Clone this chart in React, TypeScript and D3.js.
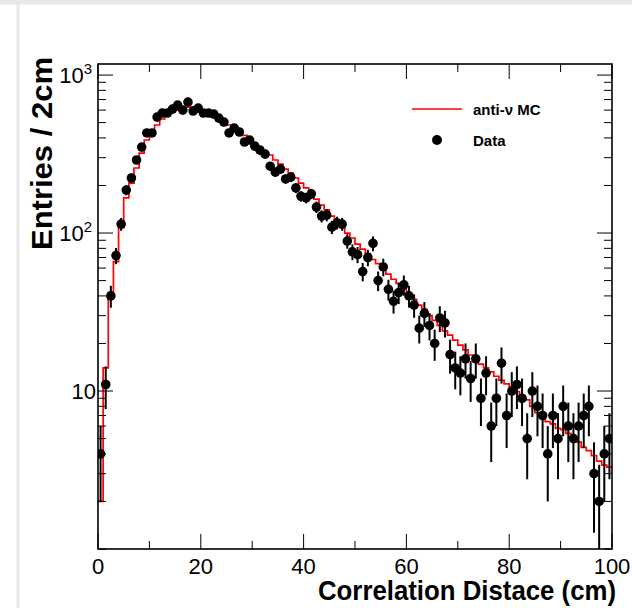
import React from "react";
import * as d3 from "d3";

// Histogram binning (cm)
const xDomain = [0, 100];
const binWidth = 1;

// Data counts per 1-cm bin
const dataCounts = [
  4, 11, 40, 72, 114, 187, 223, 290, 350, 430,
  430, 542, 575, 575, 609, 646, 600, 675, 592, 618,
  575, 575, 567, 534, 504, 430, 462, 436, 377, 388,
  355, 335, 316, 265, 243, 254, 220, 226, 193, 171,
  167, 177, 146, 128, 130, 109, 116, 114, 89, 76,
  73, 57, 70, 86, 50, 61, 44, 37, 42, 47,
  40, 35, 25, 31, 26, 20, 29, 27, 17, 14,
  13, 16, 12, 16, 9, 13, 6, 9, 15, 7,
  10, 11, 9, 5, 10, 8, 7, 4, 7, 5,
  8, 6, 5, 6, 7, 8, 3, 2, 4, 5,
];

// anti-nu MC expectation per bin
const mcCounts = [
  2.0, 14, 42, 66, 108, 167, 207, 258, 321, 388,
  430, 483, 527, 558, 583, 600, 618, 627, 627, 618,
  600, 583, 558, 534, 504, 483, 462, 436, 415, 394,
  371, 350, 330, 312, 290, 273, 254, 240, 223, 207,
  193, 179, 164, 150, 140, 128, 117, 108, 100, 93,
  85, 79, 74, 68, 64, 59, 55, 51, 48, 44,
  41, 38, 35, 33, 30, 28, 26, 24, 22.6, 21,
  19.5, 18.2, 16.9, 15.7, 14.8, 14.0, 13.2, 12.4, 11.7, 11.1,
  10.4, 9.9, 9.3, 8.8, 8.0, 7.3, 7.0, 6.4, 6.2, 5.8,
  5.7, 5.4, 5.0, 4.75, 4.4, 4.2, 3.9, 3.6, 3.4, 3.3,
];

const xMajorTicks = [0, 20, 40, 60, 80, 100];
const xTickLabels = ["0", "20", "40", "60", "80", "100"];
const yMajorLabels = [
  { v: 10, base: "10", sup: "" },
  { v: 100, base: "10", sup: "2" },
  { v: 1000, base: "10", sup: "3" },
];
const legendLabels = ["anti-\u03BD MC", "Data"];
const xTitle = "Correlation Distace (cm)";
const yTitle = "Entries / 2cm";

export default function App() {
  const W = 632, H = 608;
  const L = 98, R = 612, T = 64, B = 549;
  const x = d3.scaleLinear().domain(xDomain).range([L, R]);
  const y = d3.scaleLog().domain([1, 1175]).range([B, T]);

  const mcPts: [number, number][] = mcCounts.map((v, i) => [x(i * binWidth), y(v)]);
  mcPts.push([x(mcCounts.length * binWidth), y(mcCounts[mcCounts.length - 1])]);
  const mcPath = d3.line().curve(d3.curveStepAfter)(mcPts) || "";

  const xTicks = x.ticks(10);
  const yTicks = y.ticks();
  const font = "'Liberation Sans', Arial, Helvetica, sans-serif";
  const maj = 15, mnr = 8;

  return (
    <svg width={W} height={H} style={{ position: "absolute", left: 0, top: 0, background: "#fff" }}
      fontFamily={font}>
      <rect x={0} y={0} width={W} height={H} fill="#fff" />
      <rect x={0} y={0} width={W} height={4.5} fill="#e8e8e8" />
      <rect x={16.5} y={0} width={3} height={H} fill="#e6e6e6" />
      <defs>
        <clipPath id="frame">
          <rect x={L} y={T} width={R - L} height={B - T} />
        </clipPath>
      </defs>

      {/* MC histogram and data */}
      <g clipPath="url(#frame)">
        <path d={mcPath} fill="none" stroke="#ff0000" strokeWidth={1.7} />
        {dataCounts.map((n, i) => {
          const cx = x((i + 0.5) * binWidth);
          const e = Math.sqrt(n);
          const lo = Math.max(n - e, 0.5);
          return (
            <g key={i}>
              <line x1={cx} x2={cx} y1={y(lo)} y2={y(n + e)} stroke="#000" strokeWidth={2} />
              <circle cx={cx} cy={y(n)} r={4.8} fill="#000" />
            </g>
          );
        })}
      </g>

      {/* frame */}
      <rect x={L} y={T} width={R - L} height={B - T} fill="none" stroke="#000" strokeWidth={1.6} />

      {/* x ticks bottom & top */}
      {xTicks.map((t) => {
        const len = t % 20 === 0 ? maj : mnr;
        return (
          <g key={"xt" + t}>
            <line x1={x(t)} x2={x(t)} y1={B} y2={B - len} stroke="#000" strokeWidth={1} />
            <line x1={x(t)} x2={x(t)} y1={T} y2={T + len} stroke="#000" strokeWidth={1} />
          </g>
        );
      })}
      {xMajorTicks.map((t, i) => (
        <text key={"xl" + t} x={x(t)} y={574} textAnchor="middle" fontSize={22}>
          {xTickLabels[i]}
        </text>
      ))}

      {/* y ticks left & right */}
      {yTicks.map((t) => {
        const isMaj = Math.abs(Math.log10(t) - Math.round(Math.log10(t))) < 1e-9 && t > 1;
        const len = isMaj ? maj : mnr;
        return (
          <g key={"yt" + t}>
            <line x1={L} x2={L + len} y1={y(t)} y2={y(t)} stroke="#000" strokeWidth={1} />
            <line x1={R} x2={R - len} y1={y(t)} y2={y(t)} stroke="#000" strokeWidth={1} />
          </g>
        );
      })}
      {yMajorLabels.map((d) => (
        <text key={"yl" + d.v} x={d.sup ? 92 : 96} y={y(d.v) + 8} textAnchor="end" fontSize={22}>
          {d.base}
          {d.sup ? (
            <tspan dy={-9} fontSize={15}>{d.sup}</tspan>
          ) : null}
        </text>
      ))}

      {/* titles */}
      <text x={616} y={600} textAnchor="end" fontSize={28} fontWeight="bold"
        textLength={298} lengthAdjust="spacingAndGlyphs">{xTitle}</text>
      <text transform="translate(52,57) rotate(-90)" textAnchor="end" fontSize={29} fontWeight="bold"
        textLength={193} lengthAdjust="spacingAndGlyphs">{yTitle}</text>

      {/* legend */}
      <line x1={412} x2={462} y1={109} y2={109} stroke="#ff0000" strokeWidth={1.7} />
      <text x={473} y={114.5} fontSize={15} fontWeight="bold">{legendLabels[0]}</text>
      <circle cx={437} cy={140} r={5} fill="#000" />
      <text x={473} y={145.5} fontSize={15} fontWeight="bold">{legendLabels[1]}</text>
    </svg>
  );
}
